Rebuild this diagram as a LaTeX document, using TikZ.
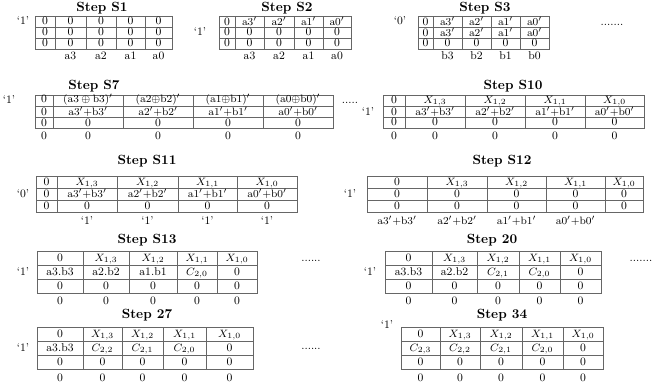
\documentclass[tikz,border=0pt]{standalone}
\usepackage{amsmath}
%%% cell contents
\newcommand{\ap}[1]{$\mathrm{#1}'$}
\newcommand{\psum}[2]{$\mathrm{#1}'{+}\mathrm{#2}'$}
\newcommand{\pxor}[2]{$(\mathrm{#1}{\oplus}\mathrm{#2})'$}
\newcommand{\pxorsp}[2]{$(\mathrm{#1}\oplus\mathrm{#2})'$}
\newcommand{\xv}[1]{$X_{1,#1}$}
\newcommand{\cv}[1]{$C_{2,#1}$}
%%% grid: left, right, top, bottom, inner columns, inner rows
\newcommand{\stepgrid}[6]{%
    \draw[gridline] (#1,#3) rectangle (#2,#4);
    \foreach \c in {#5} \draw[gridline] (\c,#3) -- (\c,#4);
    \foreach \r in {#6} \draw[gridline] (#1,\r) -- (#2,\r);}
%%% row of texts and row of zeros
\newcommand{\cellrow}[3]{\foreach \x/\txt [count=\i] in {#3} \node[cell] (#1\i) at (\x,#2) {\txt};}
\newcommand{\zerorow}[3]{\foreach \x [count=\i] in {#3} \node[cell] (#1\i) at (\x,#2) {0};}
\begin{document}
\begin{tikzpicture}[x=0.75pt,y=-0.75pt,
    cell/.style={inner sep=0pt,font=\fontsize{8.5}{10}\selectfont,text height=5.8pt,text depth=1pt},
    steptitle/.style={inner sep=0pt,font=\bfseries,text height=7pt,text depth=2pt},
    gridline/.style={draw=black!60,line width=0.5pt}]
                \useasboundingbox (0,0) rectangle (662,389);
                %%% Step S1
                \node[steptitle] (s1) at (102,8.5) {Step S1};
                \stepgrid{35}{172}{16}{49}{55,86,116,145}{27,38}
                \zerorow{s1a}{21.5}{45,70.5,101,130.5,158.5}
                \zerorow{s1b}{32.5}{45,70.5,101,130.5,158.5}
                \zerorow{s1c}{43.5}{45,70.5,101,130.5,158.5}
                \cellrow{s1l}{56}{70.5/a3,101/a2,130.5/a1,158.5/a0}
                \node[cell] (s1f) at (23,21.5) {`1'};
                %%% Step S2
                \node[steptitle] (s2) at (287,8.5) {Step S2};
                \stepgrid{219}{351}{16}{49}{235,264,294,323}{27,38}
                \cellrow{s2a}{22}{227/0,249.5/\ap{a3},279/\ap{a2},308.5/\ap{a1},337/\ap{a0}}
                \zerorow{s2b}{32.5}{227,249.5,279,308.5,337}
                \zerorow{s2c}{43.5}{227,249.5,279,308.5,337}
                \cellrow{s2l}{56}{249.5/a3,279/a2,308.5/a1,337/a0}
                \node[cell] (s2f) at (200,32.5) {`1'};
                %%% Step S3
                \node[steptitle] (s3) at (485,8.5) {Step S3};
                \stepgrid{418}{549}{16}{49}{433,462,491,520}{27,38}
                \cellrow{s3a}{22}{425.5/0,447.5/\ap{a3},476.5/\ap{a2},505.5/\ap{a1},534.5/\ap{a0}}
                \cellrow{s3b}{33}{425.5/0,447.5/\ap{a3},476.5/\ap{a2},505.5/\ap{a1},534.5/\ap{a0}}
                \zerorow{s3c}{43.5}{425.5,447.5,476.5,505.5,534.5}
                \cellrow{s3l}{56}{447.5/b3,476.5/b2,505.5/b1,534.5/b0}
                \node[cell] (s3f) at (400,21.5) {`0'};
                \node[cell] (s3d) at (612,22) {.......};
                %%% Step S7
                \node[steptitle] (s7) at (94,86) {Step S7};
                \stepgrid{35}{333}{95}{128}{53,123,193,263}{106,117}
                \cellrow{s7a}{99.5}{44/0,88/\pxorsp{a3}{b3},158/\pxor{a2}{b2},228/\pxor{a1}{b1},298/\pxor{a0}{b0}}
                \cellrow{s7b}{112.5}{44/0,88/\psum{a3}{b3},158/\psum{a2}{b2},228/\psum{a1}{b1},298/\psum{a0}{b0}}
                \zerorow{s7c}{123}{44,88,158,228,298}
                \zerorow{s7e}{136.5}{44,88,158,228,298}
                \node[cell] (s7f) at (9,100) {`1'};
                \node[cell] (s7d) at (350,100) {.....};
                %%% Step S10
                \node[steptitle] (s10) at (513,86) {Step S10};
                \stepgrid{383}{644}{95}{128}{405,465,525,585}{106,117}
                \cellrow{s10a}{100}{394/0,435/\xv{3},495/\xv{2},555/\xv{1},614.5/\xv{0}}
                \cellrow{s10b}{112}{394/0,435/\psum{a3}{b3},495/\psum{a2}{b2},555/\psum{a1}{b1},614.5/\psum{a0}{b0}}
                \zerorow{s10c}{122.5}{394,435,495,555,614.5}
                \zerorow{s10e}{136.5}{394,435,495,555,614.5}
                \node[cell] (s10f) at (368,112) {`1'};
                %%% Step S11
                \node[steptitle] (s11) at (147,161) {Step S11};
                \stepgrid{36}{297}{176}{212}{57,117,178,237}{188,200}
                \cellrow{s11a}{182}{46.5/0,87/\xv{3},147.5/\xv{2},207.5/\xv{1},267/\xv{0}}
                \cellrow{s11b}{194}{46.5/0,87/\psum{a3}{b3},147.5/\psum{a2}{b2},207.5/\psum{a1}{b1},267/\psum{a0}{b0}}
                \zerorow{s11c}{206}{46.5,87,147.5,207.5,267}
                \cellrow{s11l}{221}{87/`1',147.5/`1',207.5/`1',267/`1'}
                \node[cell] (s11f) at (23,194) {`0'};
                %%% Step S12
                \node[steptitle] (s12) at (502,161) {Step S12};
                \stepgrid{367}{643}{176}{212}{427,487,546,605}{188,200}
                \cellrow{s12a}{182}{397/0,457/\xv{3},516.5/\xv{2},575.5/\xv{1},624/\xv{0}}
                \zerorow{s12b}{194}{397,457,516.5,575.5,624}
                \zerorow{s12c}{206}{397,457,516.5,575.5,624}
                \cellrow{s12l}{221}{397/\psum{a3}{b3},457/\psum{a2}{b2},516.5/\psum{a1}{b1},575.5/\psum{a0}{b0}}
                \node[cell] (s12f) at (350,194) {`1'};
                %%% Step S13
                \node[steptitle] (s13) at (147,240) {Step S13};
                \stepgrid{37}{257}{251}{293}{83,129,177,217}{265,279}
                \cellrow{s13a}{258}{60/0,106/\xv{3},153/\xv{2},197/\xv{1},237/\xv{0}}
                \cellrow{s13b}{272}{60/a3.b3,106/a2.b2,153/a1.b1,197/\cv{0},237/0}
                \zerorow{s13c}{286}{60,106,153,197,237}
                \zerorow{s13e}{301}{60,106,153,197,237}
                \node[cell] (s13f) at (23,272) {`1'};
                \node[cell] (s13d) at (311,258) {......};
                %%% Step 20
                \node[steptitle] (s20) at (492,240) {Step 20};
                \stepgrid{385}{601}{251}{293}{432,477,519,560}{265,279}
                \cellrow{s20a}{258}{408.5/0,454.5/\xv{3},498/\xv{2},539.5/\xv{1},580.5/\xv{0}}
                \cellrow{s20b}{272}{408.5/a3.b3,454.5/a2.b2,498/\cv{1},539.5/\cv{0},580.5/0}
                \zerorow{s20c}{286}{408.5,454.5,498,539.5,580.5}
                \zerorow{s20e}{301}{408.5,454.5,498,539.5,580.5}
                \node[cell] (s20f) at (370,272) {`1'};
                \node[cell] (s20d) at (641,258) {.......};
                %%% Step 27
                \node[steptitle] (s27) at (147,315) {Step 27};
                \stepgrid{37}{253}{327}{369}{83,122,163,206}{341,355}
                \cellrow{s27a}{334}{60/0,102.5/\xv{3},142.5/\xv{2},184.5/\xv{1},229.5/\xv{0}}
                \cellrow{s27b}{348}{60/a3.b3,102.5/\cv{2},142.5/\cv{1},184.5/\cv{0},229.5/0}
                \zerorow{s27c}{362}{60,102.5,142.5,184.5,229.5}
                \zerorow{s27e}{378}{60,102.5,142.5,184.5,229.5}
                \node[cell] (s27f) at (23,348) {`1'};
                \node[cell] (s27d) at (311,346) {......};
                %%% Step 34
                \node[steptitle] (s34) at (502,315) {Step 34};
                \stepgrid{401}{603}{327}{369}{440,480,522,563}{341,355}
                \cellrow{s34a}{334}{420.5/0,460/\xv{3},501/\xv{2},542.5/\xv{1},583/\xv{0}}
                \cellrow{s34b}{348}{420.5/\cv{3},460/\cv{2},501/\cv{1},542.5/\cv{0},583/0}
                \zerorow{s34c}{362}{420.5,460,501,542.5,583}
                \zerorow{s34e}{378}{420.5,460,501,542.5,583}
                \node[cell] (s34f) at (387,325) {`1'};
\end{tikzpicture}
\end{document}
